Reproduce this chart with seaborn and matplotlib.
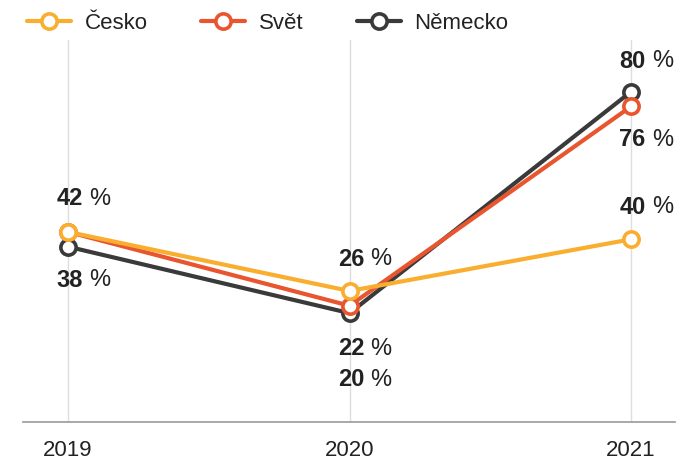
import pandas as pd
import matplotlib.pyplot as plt
import seaborn as sns

# data
years = [2019, 2020, 2021]
cesko = [42, 26, 40]
svet = [42, 22, 76]
nemecko = [38, 20, 80]
series_names = ["Česko", "Svět", "Německo"]
colors = ["#F9AE2F", "#E9552F", "#3A3A3A"]

# label placement per series/point: vertical offset in points (None = no label)
label_offsets = {
    "Česko": [24, 23, 23],
    "Svět": [None, -31, -24],
    "Německo": [-24, -48, 22],
}

df = pd.DataFrame({
    "year": years * 3,
    "value": cesko + svet + nemecko,
    "series": [n for n in series_names for _ in years],
})

sns.set_theme(style="white")
plt.rcParams["font.family"] = ["Liberation Sans", "DejaVu Sans"]

fig = plt.figure(figsize=(6.8, 4.66), dpi=100)
ax = fig.add_axes([23 / 680, 1 - 422 / 466, 652 / 680, 382 / 466])

# draw in reverse so Česko sits on top
for name, col in list(zip(series_names, colors))[::-1]:
    sub = df[df["series"] == name]
    sns.lineplot(data=sub, x="year", y="value", ax=ax, color=col, lw=3,
                 marker="o", markersize=11, markerfacecolor="white",
                 markeredgecolor=col, markeredgewidth=2.6, label=name,
                 zorder=3)

# value labels
for name in series_names:
    sub = df[df["series"] == name]
    for (x, v), off in zip(zip(sub["year"], sub["value"]), label_offsets[name]):
        if off is None:
            continue
        ax.annotate(f"{v}", (x, v), xytext=(10.5, off), textcoords="offset points",
                    ha="right", va="center", fontsize=17, fontweight="bold",
                    color="#222222")
        ax.annotate("%", (x, v), xytext=(15, off), textcoords="offset points",
                    ha="left", va="center", fontsize=17, color="#222222")

ax.set_xlim(2018.84, 2021.156)
ax.set_ylim(-9.5, 94)
ax.set_xticks(years)
ax.set_xticklabels([str(y) for y in years], fontsize=16, color="#222222")
ax.set_yticks([])
ax.set_xlabel("")
ax.set_ylabel("")
ax.tick_params(axis="x", length=0, pad=13)
for x in years:
    ax.axvline(x, color="#DDDDDD", lw=1, zorder=0)
for s in ["top", "left", "right"]:
    ax.spines[s].set_visible(False)
ax.spines["bottom"].set_color("#999999")
ax.spines["bottom"].set_linewidth(1.2)

# legend in original order
handles, labels = ax.get_legend_handles_labels()
order = [labels.index(n) for n in series_names]
leg = fig.legend([handles[i] for i in order], series_names, loc="upper left",
                 bbox_to_anchor=(0.01, 1.015), ncol=3, frameon=False,
                 fontsize=16, handlelength=2.0, columnspacing=2.4,
                 handletextpad=0.6, labelcolor="#222222")
ax.get_legend().remove()

fig.savefig("out.png", dpi=100)
